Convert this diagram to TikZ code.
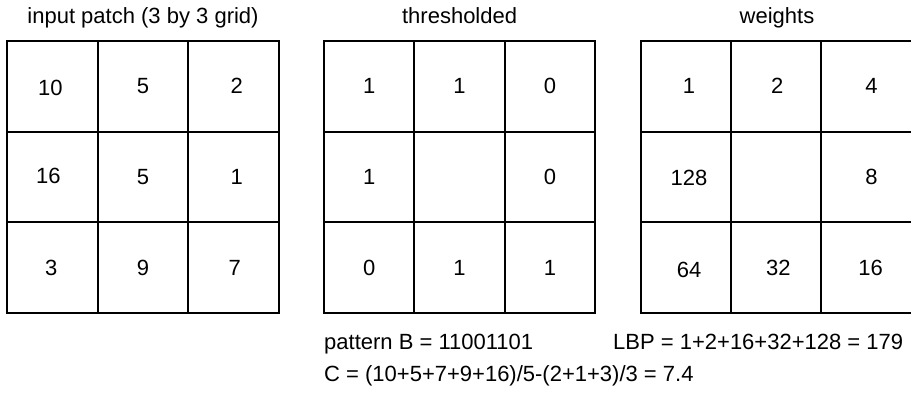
\documentclass[tikz,border=0pt]{standalone}
\usepackage{fontspec}
\setmainfont{Liberation Sans}
\begin{document}
\begin{tikzpicture}[x=1pt,y=-1pt,
  txt/.style={font=\fontsize{22}{26}\selectfont, text=black, inner sep=0pt},
  cell/.style={draw=black, line width=1.8pt, minimum width=90.5pt, minimum height=90.6pt,
    inner sep=0pt, outer sep=0pt},
  val/.style={txt},
  caption/.style={txt, anchor=base},
  note/.style={txt, anchor=base west}]
\useasboundingbox (0,0) rectangle (911,394);

% input patch
\foreach \r/\y in {1/86.3, 2/177, 3/267.7}
  \foreach \c/\x in {1/52.3, 2/143, 3/233.7}
    \node[cell] (A-\r-\c) at (\x,\y) {};
% thresholded
\foreach \r/\y in {1/86.3, 2/177, 3/267.7}
  \foreach \c/\x in {1/369.2, 2/459.6, 3/550}
    \node[cell] (B-\r-\c) at (\x,\y) {};
% weights
\foreach \r/\y in {1/86.3, 2/177, 3/267.7}
  \foreach \c/\x in {1/686, 2/776.3, 3/866.5}
    \node[cell] (C-\r-\c) at (\x,\y) {};

% values
\foreach \r/\c/\t/\dx/\dy in {1/1/10/-2/2, 1/2/5/0/0, 1/3/2/3/0,
                              2/1/16/-4/-1, 2/2/5/0/0, 2/3/1/3/0,
                              3/1/3/-1/0, 3/2/9/0/0, 3/3/7/1/0}
  \node[val] (a-\r-\c) at ([shift={(\dx,\dy)}]A-\r-\c.center) {\t};
\foreach \r/\c/\t in {1/1/1, 1/2/1, 1/3/0, 2/1/1, 2/3/0, 3/1/0, 3/2/1, 3/3/1}
  \node[val] (b-\r-\c) at (B-\r-\c.center) {\t};
\foreach \r/\c/\t/\dx/\dy in {1/1/1/3/0, 1/2/2/1/0, 1/3/4/5/0,
                              2/1/128/3/1, 2/3/8/5/0,
                              3/1/64/3/2, 3/2/32/2/0, 3/3/16/4/0}
  \node[val] (c-\r-\c) at ([shift={(\dx,\dy)}]C-\r-\c.center) {\t};

% titles
\node[caption] (tA) at (143,23) {input patch (3 by 3 grid)};
\node[caption] (tB) at (459.6,23) {thresholded};
\node[caption] (tC) at (777,23) {weights};

% results
\node[note] (pat) at (324,349) {pattern B = 11001101};
\node[note] (lbp) at (613,349) {LBP = 1+2+16+32+128 = 179};
\node[note] (con) at (324,381) {C = (10+5+7+9+16)/5-(2+1+3)/3 = 7.4};
\end{tikzpicture}
\end{document}
